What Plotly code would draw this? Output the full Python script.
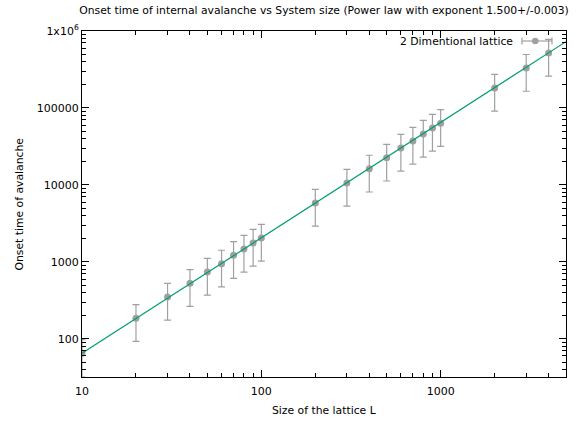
import plotly.graph_objects as go

L = [10, 20, 30, 40, 50, 60, 70, 80, 90, 100,
     200, 300, 400, 500, 600, 700, 800, 900, 1000, 2000, 3000, 4000]
onset = [65, 186, 350, 530, 740, 945, 1220, 1475, 1765, 2050,
         5840, 10600, 16200, 22500, 30200, 37300, 45900, 54900, 63500, 182000, 330000, 518000]
onset_err = [33, 93, 175, 265, 370, 472, 610, 738, 882, 1025,
             2920, 5300, 8100, 11250, 15100, 18650, 22950, 27450, 31750, 91000, 165000, 259000]
fit_x = [10, 5000]
fit_y = [65, 727000]

xtick_vals = [10, 100, 1000]
xtick_text = ["10", "100", "1000"]
xminor_vals = [20, 30, 40, 50, 60, 70, 80, 90,
               200, 300, 400, 500, 600, 700, 800, 900,
               2000, 3000, 4000, 5000]
ytick_vals = [100, 1000, 10000, 100000, 1000000]
ytick_text = ["100", "1000", "10000", "100000", "1x10<sup>6</sup>"]
yminor_vals = [40, 50, 60, 70, 80, 90,
               200, 300, 400, 500, 600, 700, 800, 900,
               2000, 3000, 4000, 5000, 6000, 7000, 8000, 9000,
               20000, 30000, 40000, 50000, 60000, 70000, 80000, 90000,
               200000, 300000, 400000, 500000, 600000, 700000, 800000, 900000]

GRAY = "#a0a0a0"
GREEN = "#009e73"
FONT = "DejaVu Sans"

fig = go.Figure()
fig.add_trace(go.Scatter(
    x=L, y=onset, mode="markers",
    marker=dict(color=GRAY, size=7),
    error_y=dict(type="data", array=onset_err, visible=True,
                 color=GRAY, thickness=1.2, width=3.5),
    showlegend=False, cliponaxis=True))
fig.add_trace(go.Scatter(
    x=fit_x, y=fit_y, mode="lines",
    line=dict(color=GREEN, width=1.2), showlegend=False))

# plot area in pixels: left 82, right 566, top 31, bottom 377
L0, R0, T0, B0 = 82, 566, 31, 377
def px(x):
    return (x - L0) / (R0 - L0)
def py(y):
    return (B0 - y) / (B0 - T0)

ly = 41
shapes = [
    dict(type="line", xref="paper", yref="paper", x0=px(522), x1=px(552), y0=py(ly), y1=py(ly),
         line=dict(color=GRAY, width=1.2)),
    dict(type="line", xref="paper", yref="paper", x0=px(522), x1=px(522), y0=py(ly - 3.5), y1=py(ly + 3.5),
         line=dict(color=GRAY, width=1.2)),
    dict(type="line", xref="paper", yref="paper", x0=px(552), x1=px(552), y0=py(ly - 3.5), y1=py(ly + 3.5),
         line=dict(color=GRAY, width=1.2)),
    dict(type="circle", xref="paper", yref="paper", x0=px(532), x1=px(538.5), y0=py(ly - 3.3), y1=py(ly + 3.3),
         fillcolor=GRAY, line=dict(color=GRAY, width=0)),
]

fig.update_layout(
    width=580, height=422,
    margin=dict(l=L0, r=580 - R0, t=T0, b=422 - B0),
    paper_bgcolor="white", plot_bgcolor="white",
    font=dict(family=FONT, size=11, color="black"),
    title=dict(text="Onset time of internal avalanche vs System size (Power law with exponent 1.500+/-0.003)",
               x=(L0 + R0) / 2 / 580, xanchor="center", y=1 - 10 / 422, yanchor="middle",
               font=dict(family=FONT, size=10.8, color="black")),
    shapes=shapes,
    annotations=[
        dict(text="2 Dimentional lattice", xref="paper", yref="paper",
             x=px(515), y=py(ly), xanchor="right", yanchor="middle",
             showarrow=False, font=dict(family=FONT, size=10.8, color="black")),
        dict(text="Size of the lattice L", xref="paper", yref="paper",
             x=0.5, y=py(410), xanchor="center", yanchor="middle",
             showarrow=False, font=dict(family=FONT, size=10.8, color="black")),
        dict(text="Onset time of avalanche", xref="paper", yref="paper",
             x=px(18.5), y=0.5, xanchor="center", yanchor="middle", textangle=-90,
             showarrow=False, font=dict(family=FONT, size=10.8, color="black")),
    ],
)
fig.update_xaxes(type="log", range=[1, 3.69897], tickvals=xtick_vals, ticktext=xtick_text,
                 showline=True, linecolor="black", linewidth=1, mirror="allticks",
                 ticks="inside", ticklen=7, tickcolor="black", showgrid=False, zeroline=False,
                 minor=dict(tickmode="array", tickvals=xminor_vals, ticks="inside", ticklen=4,
                            tickcolor="black", showgrid=False),
                 ticklabelstandoff=4,
                 automargin=False, tickfont=dict(family=FONT, size=11))
fig.update_yaxes(type="log", range=[1.505, 6], tickvals=ytick_vals, ticktext=ytick_text,
                 showline=True, linecolor="black", linewidth=1, mirror="allticks",
                 ticks="inside", ticklen=7, tickcolor="black", showgrid=False, zeroline=False,
                 minor=dict(tickmode="array", tickvals=yminor_vals, ticks="inside", ticklen=4,
                            tickcolor="black", showgrid=False),
                 automargin=False, tickfont=dict(family=FONT, size=11))

fig.write_html("out.html", post_script="document.body.style.margin='0';",
               config={"displayModeBar": False})
